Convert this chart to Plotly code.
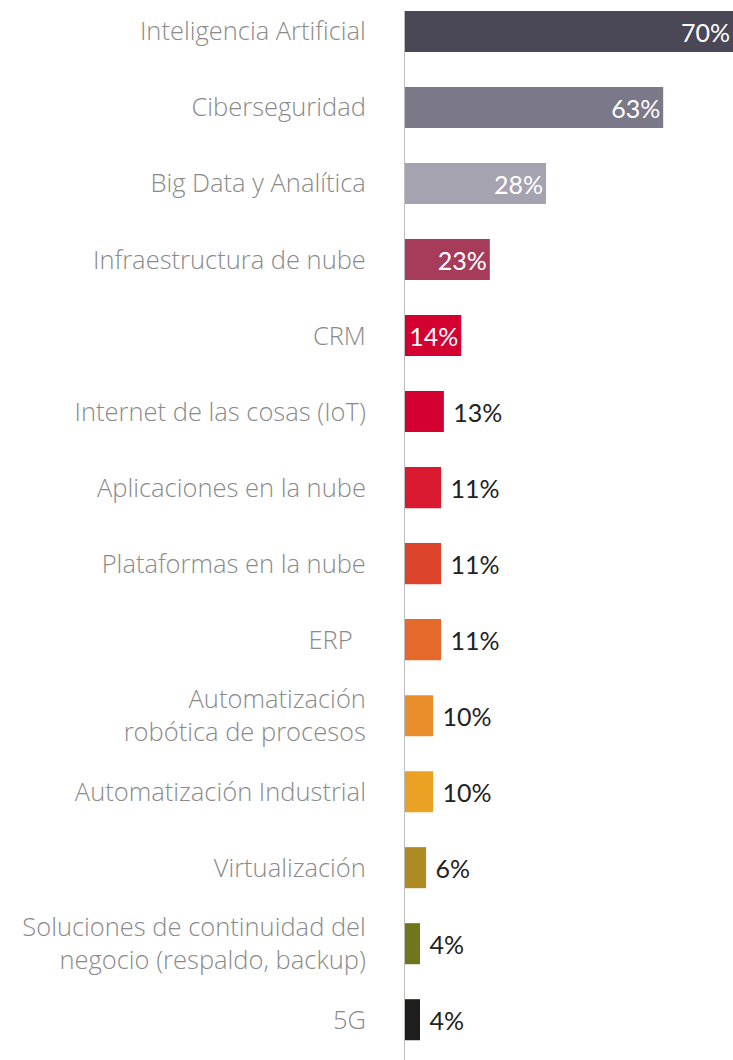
import plotly.graph_objects as go

categories = [
    "Inteligencia Artificial",
    "Ciberseguridad",
    "Big Data y Analítica",
    "Infraestructura de nube",
    "CRM",
    "Internet de las cosas (IoT)",
    "Aplicaciones en la nube",
    "Plataformas en la nube",
    "ERP\u00a0\u00a0",
    "Automatización<br>robótica de procesos",
    "Automatización Industrial",
    "Virtualización",
    "Soluciones de continuidad del<br>negocio (respaldo, backup)",
    "5G",
]
# percentages printed on the bars
values = [70, 63, 28, 23, 14, 13, 11, 11, 11, 10, 10, 6, 4, 4]
# bar lengths as drawn in the reference (same % scale)
drawn_length = [70, 55.1, 30.1, 18.1, 12.0, 8.3, 7.7, 7.7, 7.7, 6.0, 6.0, 4.5, 3.2, 3.2]
colors = ["#4a4857", "#7b7889", "#a6a3b1", "#a63c5a", "#d50032", "#d50032",
          "#d9192f", "#dd432b", "#e4692a", "#e98e2a", "#eba123", "#ad8a22",
          "#6f761e", "#1e1e1c"]
inside = [True, True, True, True, True] + [False] * 9

labels = [f"{v}%" if i else f"\u00a0{v}%" for v, i in zip(values, inside)]

fig = go.Figure()
fig.add_trace(go.Bar(
    y=categories,
    x=drawn_length,
    orientation="h",
    marker=dict(color=colors, line=dict(width=0)),
    width=0.54,
    text=labels,
    textposition=["inside" if i else "outside" for i in inside],
    insidetextanchor="end",
    textfont=dict(family="Lato, sans-serif", size=25,
                  color=["#ffffff" if i else "#222222" for i in inside]),
    constraintext="none",
    cliponaxis=False,
    hoverinfo="skip",
))

fig.update_layout(
    width=733,
    height=1060,
    margin=dict(l=405, r=0, t=11, b=0),
    paper_bgcolor="white",
    plot_bgcolor="white",
    showlegend=False,
    bargap=0.46,
    xaxis=dict(range=[0, 70], visible=False, fixedrange=True),
    yaxis=dict(
        type="category",
        range=[13.53, -0.27],
        showline=True,
        linecolor="#bdbdbd",
        linewidth=1,
        showgrid=False,
        zeroline=False,
        ticks="",
        ticklabelstandoff=33,
        fixedrange=True,
        tickfont=dict(family="Open Sans, sans-serif", size=25.5, color="#8a8a8a", weight=300),
    ),
)

fig.write_html(
    "out.html",
    config={"displayModeBar": False},
    post_script="document.body.style.margin='0';document.body.style.overflow='hidden';",
)
